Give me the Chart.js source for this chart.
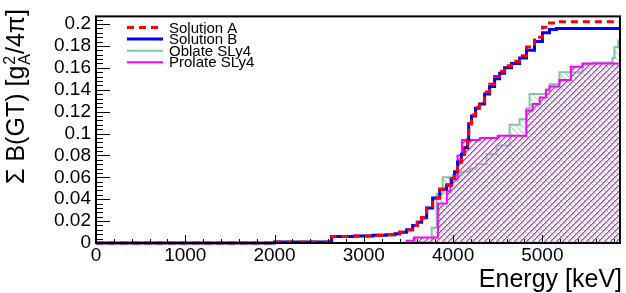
<!DOCTYPE html>
<html><head><meta charset="utf-8">
<script src="https://cdn.jsdelivr.net/npm/chart.js@4"></script>
<style>html,body{margin:0;padding:0;background:#fff}canvas{display:block}</style>
</head><body>
<canvas id="c" width="626" height="293"></canvas>
<script>
// ---- data (keV, cumulative B(GT)) ----
const energySol = [0, 2000, 2640, 2900, 3100, 3250, 3350, 3400, 3480, 3547, 3600, 3648, 3704, 3771, 3850, 3928, 3984, 4017, 4050, 4095, 4129, 4163, 4175, 4207, 4252, 4297, 4353, 4409, 4465, 4521, 4577, 4655, 4745, 4823, 4912, 5002, 5080, 5159, 5870];
const sumA = [0, 0.001, 0.006, 0.0065, 0.007, 0.0075, 0.0085, 0.0098, 0.012, 0.016, 0.019, 0.023, 0.032, 0.041, 0.049, 0.053, 0.059, 0.065, 0.074, 0.081, 0.087, 0.094, 0.109, 0.117, 0.124, 0.129, 0.138, 0.145, 0.152, 0.157, 0.162, 0.166, 0.171, 0.179, 0.188, 0.197, 0.201, 0.202, 0.202];
const sumB = [0, 0.001, 0.006, 0.0065, 0.007, 0.0075, 0.0085, 0.0098, 0.012, 0.016, 0.019, 0.023, 0.032, 0.041, 0.049, 0.053, 0.059, 0.065, 0.074, 0.081, 0.087, 0.094, 0.109, 0.116, 0.123, 0.127, 0.136, 0.143, 0.150, 0.155, 0.160, 0.164, 0.169, 0.176, 0.184, 0.192, 0.195, 0.196, 0.196];
const energyOblate = [0, 3570, 3760, 3816, 3883, 3995, 4073, 4185, 4263, 4375, 4487, 4633, 4745, 4823, 4857, 5080, 5192, 5450, 5562, 5785, 5808, 5850, 5870];
const sumOblate = [0, 0.001, 0.014, 0.045, 0.060, 0.062, 0.065, 0.068, 0.072, 0.081, 0.089, 0.108, 0.113, 0.123, 0.136, 0.145, 0.156, 0.163, 0.165, 0.169, 0.179, 0.185, 0.185];
const energyProlate = [0, 3480, 3560, 3830, 3930, 3970, 4050, 4100, 4300, 4500, 4820, 4890, 4970, 5040, 5080, 5190, 5320, 5450, 5870];
const sumProlate = [0, 0.002, 0.005, 0.036, 0.047, 0.058, 0.080, 0.094, 0.096, 0.098, 0.121, 0.127, 0.133, 0.140, 0.143, 0.149, 0.161, 0.164, 0.166];
const seriesLabels = ['Solution A', 'Solution B', 'Oblate SLy4', 'Prolate SLy4'];
const xTickValues = [0, 1000, 2000, 3000, 4000, 5000];
const yTickValues = [0, 0.02, 0.04, 0.06, 0.08, 0.1, 0.12, 0.14, 0.16, 0.18, 0.2];
const xMax = 5870, yMax = 0.207;
const xTitle = 'Energy [keV]';

const FONT = "'Liberation Sans', Arial, Helvetica, sans-serif";
const canvas = document.getElementById('c');
const mainCtx = canvas.getContext('2d');

function pts(xs, ys) { return xs.map((x, i) => ({ x: x, y: ys[i] })); }

// crisp diagonal hatch tile; optional soft second pixel to mimic an antialiased line
function hatch(color, dir, soft) {
  const s = 6;
  const c = document.createElement('canvas');
  c.width = s; c.height = s;
  const g = c.getContext('2d');
  for (let i = 0; i < s; i++) {
    const y = dir > 0 ? (s - 1 - i) : i;
    if (soft) { g.fillStyle = soft; g.fillRect((i + 1) % s, y, 1, 1); }
    g.fillStyle = color;
    g.fillRect(i, y, 1, 1);
  }
  return mainCtx.createPattern(c, 'repeat');
}

const green = '#86c2a4', magenta = '#ff00ff';

const framePlugin = {
  id: 'rootFrame',
  afterDatasetsDraw(chart) {
    const ctx = chart.ctx, a = chart.chartArea;
    const xs = chart.scales.x, ys = chart.scales.y;
    ctx.save();
    ctx.strokeStyle = '#000';
    ctx.lineWidth = 1;
    ctx.beginPath();
    for (let i = 0; ; i++) {
      const v = i * 0.004;
      if (v > yMax + 1e-9) break;
      const py = Math.round(ys.getPixelForValue(v)) + 0.5;
      const len = (i % 5 === 0) ? 14 : 7;
      ctx.moveTo(a.left, py); ctx.lineTo(a.left + len, py);
    }
    for (let i = 0; ; i++) {
      const v = i * 200;
      if (v > xMax) break;
      const px = Math.round(xs.getPixelForValue(v)) + 0.5;
      const len = (i % 5 === 0) ? 8 : 4;
      ctx.moveTo(px, a.bottom); ctx.lineTo(px, a.bottom - len);
    }
    ctx.stroke();
    ctx.lineWidth = 2;
    ctx.strokeRect(a.left, a.top, a.right - a.left, a.bottom - a.top);
    ctx.restore();
  },
  afterDraw(chart) {
    const ctx = chart.ctx;
    ctx.save();
    ctx.font = '15px ' + FONT;
    ctx.textBaseline = 'middle';
    ctx.fillStyle = '#000';
    chart.data.datasets.forEach((ds, i) => {
      const y = 27.5 + i * 11.6;
      ctx.save();
      ctx.strokeStyle = ds.borderColor;
      ctx.lineWidth = ds.borderWidth;
      ctx.setLineDash(ds.borderDash || []);
      ctx.beginPath();
      ctx.moveTo(127, y); ctx.lineTo(163, y);
      ctx.stroke();
      ctx.restore();
      ctx.fillText(ds.label, 169, y + 1);
    });
    ctx.font = '25px ' + FONT;
    ctx.textAlign = 'right';
    ctx.textBaseline = 'alphabetic';
    ctx.fillText(xTitle, 622, 287);
    const big = 25, small = 16;
    ctx.translate(24, 10);
    ctx.rotate(-Math.PI / 2);
    const p1 = '\u03A3 B(GT) [g', p3 = '/4\u03C0]';
    ctx.font = big + 'px ' + FONT;
    const w1 = ctx.measureText(p1).width, w3 = ctx.measureText(p3).width;
    ctx.font = small + 'px ' + FONT;
    const w2 = Math.max(ctx.measureText('2').width, ctx.measureText('A').width);
    const total = w1 + w2 + w3;
    const x0 = -total;
    ctx.textAlign = 'left';
    ctx.font = big + 'px ' + FONT;
    ctx.fillText(p1, x0, 0);
    ctx.font = small + 'px ' + FONT;
    ctx.fillText('2', x0 + w1 + 1, -9);
    ctx.fillText('A', x0 + w1 + 1, 6);
    ctx.font = big + 'px ' + FONT;
    ctx.fillText(p3, x0 + w1 + w2 + 1, 0);
    ctx.restore();
  }
};

const tickFont = { family: FONT, size: 19 };

new Chart(canvas, {
  type: 'line',
  data: {
    datasets: [
      { label: seriesLabels[0], data: pts(energySol, sumA), borderColor: '#ff0000', borderWidth: 3, borderDash: [7, 5], stepped: true, fill: false, pointRadius: 0, order: 0, clip: 3 },
      { label: seriesLabels[1], data: pts(energySol, sumB), borderColor: '#0000ff', borderWidth: 3, stepped: true, fill: false, pointRadius: 0, order: 1, clip: 3 },
      { label: seriesLabels[2], data: pts(energyOblate, sumOblate), borderColor: green, borderWidth: 2, backgroundColor: hatch('#a6d4bc', -1, null), stepped: true, fill: 'origin', pointRadius: 0, order: 3, clip: 3 },
      { label: seriesLabels[3], data: pts(energyProlate, sumProlate), borderColor: magenta, borderWidth: 2, backgroundColor: hatch(magenta, 1, '#ff80ff'), stepped: true, fill: 'origin', pointRadius: 0, order: 2, clip: 3 }
    ]
  },
  options: {
    responsive: false,
    animation: false,
    devicePixelRatio: 1,
    layout: { padding: { top: 10, right: 6, left: 0, bottom: 0 } },
    plugins: { legend: { display: false }, tooltip: { enabled: false } },
    scales: {
      x: {
        type: 'linear', min: 0, max: xMax,
        afterBuildTicks: s => { s.ticks = xTickValues.map(v => ({ value: v })); },
        afterFit: s => { s.height = 50; },
        ticks: { callback: v => String(v), font: tickFont, color: '#000', maxRotation: 0, autoSkip: false, padding: 1 },
        grid: { display: false, drawTicks: false },
        border: { display: false }
      },
      y: {
        type: 'linear', min: 0, max: yMax,
        afterBuildTicks: s => { s.ticks = yTickValues.map(v => ({ value: v })); },
        afterFit: s => { s.width = 96; },
        ticks: { callback: v => String(+v.toFixed(2)), font: tickFont, color: '#000', autoSkip: false, padding: 5 },
        grid: { display: false, drawTicks: false },
        border: { display: false }
      }
    }
  },
  plugins: [framePlugin]
});
</script>
</body></html>
